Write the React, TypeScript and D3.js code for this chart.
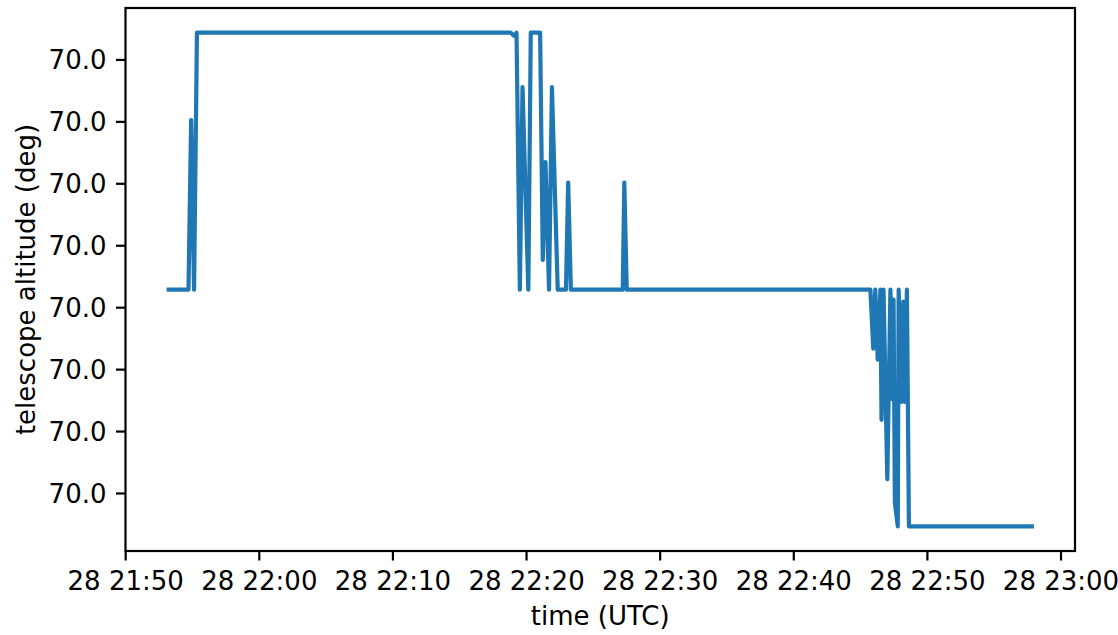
import React from "react";
import * as d3 from "d3";

// telescope altitude samples, 28th (UTC)
const times: string[] = [
  "21:53:13", "21:54:42", "21:54:54", "21:55:07", "21:55:20",
  "22:18:49", "22:19:04", "22:19:15", "22:19:30", "22:19:42",
  "22:20:08", "22:20:19", "22:21:01", "22:21:13", "22:21:25",
  "22:21:41", "22:21:54", "22:22:20", "22:22:57", "22:23:07",
  "22:23:19", "22:27:12", "22:27:19", "22:27:30", "22:45:44",
  "22:45:57", "22:46:06", "22:46:17", "22:46:29", "22:46:34",
  "22:46:43", "22:47:00", "22:47:14", "22:47:24", "22:47:28",
  "22:47:34", "22:47:47", "22:47:51", "22:48:05", "22:48:12",
  "22:48:19", "22:48:28", "22:48:37", "22:57:49",
];

// offset from 70 deg, in micro-degrees
const offsets: number[] = [
  -7.1, -7.1, 20.3, -7.1, 34.4,
  34.4, 33.9, 34.4, -7.1, 25.6,
  -7.1, 34.4, 34.4, -2.3, 13.5,
  -7.1, 25.6, -7.1, -7.1, 10.2,
  -7.1, -7.1, 10.2, -7.1, -7.1,
  -16.6, -7.1, -18.4, -7.1, -28.1,
  -7.1, -37.7, -7.1, -24.8, -8.7,
  -41.5, -45.3, -7.1, -25.2, -9.0,
  -25.2, -7.1, -45.3, -45.3,
];

const yTicks: number[] = [-40, -30, -20, -10, 0, 10, 20, 30];

const width = 1118;
const height = 635;
const left = 125.5;
const right = 1075;
const top = 8;
const bottom = 551;
const fontSize = 26;

const parseTime = (s: string): Date => {
  const [h, m, sec] = s.split(":").map(Number);
  return new Date(Date.UTC(2024, 0, 28, h, m, sec));
};

const pad = (ext: [number, number]): [number, number] => {
  const d = (ext[1] - ext[0]) * 0.05;
  return [ext[0] - d, ext[1] + d];
};

const App: React.FC = () => {
  const data = times.map((t, i) => ({ t: parseTime(t), v: offsets[i] }));

  const tExt = d3.extent(data, d => +d.t) as [number, number];
  const xScale = d3.scaleUtc()
    .domain(pad(tExt).map(n => new Date(n)))
    .range([left, right]);

  const yScale = d3.scaleLinear()
    .domain(pad(d3.extent(offsets) as [number, number]))
    .range([bottom, top]);

  const xTicks = xScale.ticks(d3.utcMinute.every(10)!);
  const fmt = d3.utcFormat("%d %H:%M");

  const line = d3.line<{ t: Date; v: number }>()
    .x(d => xScale(d.t))
    .y(d => yScale(d.v));

  return (
    <svg
      width={width}
      height={height}
      style={{ position: "absolute", left: 0, top: 0, background: "#fff" }}
      fontFamily="DejaVu Sans"
    >
      <rect x={0} y={0} width={width} height={height} fill="#fff" />
      {/* the data line */}
      <path
        d={line(data) ?? ""}
        fill="none"
        stroke="#1f77b4"
        strokeWidth={4.2}
        strokeLinecap="square"
        strokeLinejoin="round"
      />
      {/* frame */}
      <rect
        x={left}
        y={top}
        width={right - left}
        height={bottom - top}
        fill="none"
        stroke="#000"
        strokeWidth={2.2}
      />
      {/* x axis */}
      {xTicks.map((tick, i) => (
        <g key={`x-${i}`} transform={`translate(${xScale(tick)},${bottom})`}>
          <line y1={0} y2={9.5} stroke="#000" strokeWidth={2.2} />
          <text y={39} textAnchor="middle" fontSize={fontSize} fill="#000">
            {fmt(tick)}
          </text>
        </g>
      ))}
      <text x={(left + right) / 2} y={625} textAnchor="middle" fontSize={fontSize} fill="#000">
        time (UTC)
      </text>
      {/* y axis */}
      {yTicks.map((tick, i) => (
        <g key={`y-${i}`} transform={`translate(${left},${yScale(tick)})`}>
          <line x1={0} x2={-9.5} stroke="#000" strokeWidth={2.2} />
          <text x={-19} dy="0.36em" textAnchor="end" fontSize={fontSize} fill="#000">
            {(70 + tick * 1e-6).toFixed(1)}
          </text>
        </g>
      ))}
      <text
        transform={`translate(34.5,${(top + bottom) / 2}) rotate(-90)`}
        textAnchor="middle"
        fontSize={fontSize}
        fill="#000"
      >
        telescope altitude (deg)
      </text>
    </svg>
  );
};

export default App;
